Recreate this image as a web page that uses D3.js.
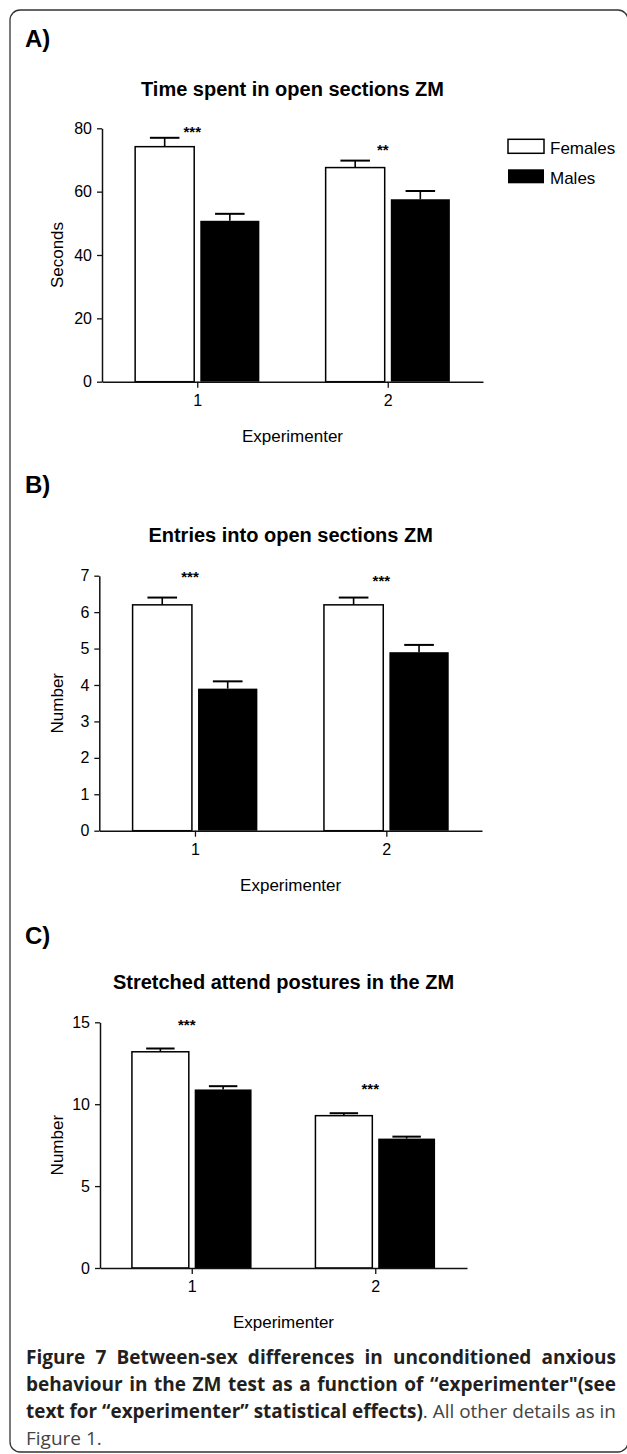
<!DOCTYPE html>
<html>
<head>
<meta charset="utf-8">
<script src="https://cdn.jsdelivr.net/npm/d3@7"></script>
<style>
  body { margin: 0; background: #fff; }
  svg { display: block; }
</style>
</head>
<body>
<script>
// groups on the x axis and the two series
const groups = ["1", "2"];
const seriesNames = ["Females", "Males"];

// A) time spent in open sections (seconds)
const timeFemales = [74.2, 67.6];
const timeFemalesSem = [2.8, 2.2];
const timeMales = [50.8, 57.6];
const timeMalesSem = [2.2, 2.6];
const timeTicks = [0, 20, 40, 60, 80];
const timeStars = ["***", "**"];
const timeStarY = [80.1, 74.2];

// B) entries into open sections
const entriesFemales = [6.2, 6.2];
const entriesFemalesSem = [0.2, 0.2];
const entriesMales = [3.9, 4.9];
const entriesMalesSem = [0.2, 0.2];
const entriesTicks = [0, 1, 2, 3, 4, 5, 6, 7];
const entriesStars = ["***", "***"];
const entriesStarY = [7.07, 6.96];

// C) stretched attend postures
const sapFemales = [13.2, 9.3];
const sapFemalesSem = [0.2, 0.15];
const sapMales = [10.9, 7.9];
const sapMalesSem = [0.2, 0.12];
const sapTicks = [0, 5, 10, 15];
const sapStars = ["***", "***"];
const sapStarY = [15.08, 11.17];

const W = 627, H = 1454;
const FONT = "'Liberation Sans', Arial, sans-serif";

const svg = d3.select("body").append("svg")
  .attr("width", W)
  .attr("height", H);

// rounded frame round the figure
svg.append("rect")
  .attr("x", 10).attr("y", 10)
  .attr("width", 618).attr("height", 1442)
  .attr("rx", 10).attr("ry", 10)
  .attr("fill", "none")
  .attr("stroke", "#333")
  .attr("stroke-width", 1.3);

const panels = [
  { letter: "A)", letterY: 47, title: "Time spent in open sections ZM", titleY: 96,
    yLabel: "Seconds", x0: 102, x1: 483, yTop: 128.3, yBottom: 381.7,
    females: timeFemales, femalesSem: timeFemalesSem, males: timeMales, malesSem: timeMalesSem,
    ticks: timeTicks, stars: timeStars, starY: timeStarY, legend: true },
  { letter: "B)", letterY: 493, title: "Entries into open sections ZM", titleY: 542,
    yLabel: "Number", x0: 99.3, x1: 482, yTop: 575.7, yBottom: 830.7,
    females: entriesFemales, femalesSem: entriesFemalesSem, males: entriesMales, malesSem: entriesMalesSem,
    ticks: entriesTicks, stars: entriesStars, starY: entriesStarY },
  { letter: "C)", letterY: 944, title: "Stretched attend postures in the ZM", titleY: 989,
    yLabel: "Number", x0: 100, x1: 467, yTop: 1022.3, yBottom: 1268,
    females: sapFemales, femalesSem: sapFemalesSem, males: sapMales, malesSem: sapMalesSem,
    ticks: sapTicks, stars: sapStars, starY: sapStarY }
];

panels.forEach(p => {
  const g = svg.append("g").style("font-family", FONT);

  const x = d3.scalePoint().domain(groups).range([p.x0, p.x1]).padding(0.5);
  const y = d3.scaleLinear().domain([0, d3.max(p.ticks)]).range([p.yBottom, p.yTop]);
  const step = x.step();
  const bw = step * 0.31;
  const gap = step * 0.016;

  // panel letter and title
  g.append("text")
    .attr("x", 25).attr("y", p.letterY)
    .attr("font-size", 24).attr("font-weight", "bold")
    .text(p.letter);

  g.append("text")
    .attr("x", (p.x0 + p.x1) / 2).attr("y", p.titleY)
    .attr("text-anchor", "middle")
    .attr("font-size", 20).attr("font-weight", "bold")
    .text(p.title);

  // bars: females open, males filled
  const rows = groups.map((k, i) => [
    { key: k, s: 0, v: p.females[i], e: p.femalesSem[i] },
    { key: k, s: 1, v: p.males[i], e: p.malesSem[i] }
  ]).flat();

  const bx = d => d.s === 0 ? x(d.key) - gap - bw : x(d.key) + gap;

  // error bars (upper only)
  g.selectAll(".stem").data(rows).enter().append("line")
    .attr("x1", d => bx(d) + bw / 2).attr("x2", d => bx(d) + bw / 2)
    .attr("y1", d => y(d.v)).attr("y2", d => y(d.v + d.e))
    .attr("stroke", "#000").attr("stroke-width", 1.6);
  g.selectAll(".cap").data(rows).enter().append("line")
    .attr("x1", d => bx(d) + bw / 4).attr("x2", d => bx(d) + bw * 3 / 4)
    .attr("y1", d => y(d.v + d.e)).attr("y2", d => y(d.v + d.e))
    .attr("stroke", "#000").attr("stroke-width", 2);

  g.selectAll(".bar").data(rows).enter().append("rect")
    .attr("x", bx)
    .attr("y", d => y(d.v))
    .attr("width", bw)
    .attr("height", d => y(0) - y(d.v))
    .attr("fill", d => d.s === 0 ? "#fff" : "#000")
    .attr("stroke", "#000")
    .attr("stroke-width", d => d.s === 0 ? 1.5 : 0);

  // axes
  const yAxis = g.append("g")
    .attr("transform", `translate(${p.x0},0)`)
    .call(d3.axisLeft(y).tickValues(p.ticks).tickFormat(d3.format("d"))
      .tickSize(5).tickSizeOuter(0).tickPadding(5));
  const xAxis = g.append("g")
    .attr("transform", `translate(0,${p.yBottom})`)
    .call(d3.axisBottom(x).tickSize(6).tickSizeOuter(0).tickPadding(7));
  [yAxis, xAxis].forEach(a => {
    a.attr("font-family", FONT).attr("font-size", 16);
    a.select(".domain").attr("stroke", "#111").attr("stroke-width", 1.5);
    a.selectAll(".tick line").attr("stroke", "#111").attr("stroke-width", 1.3);
    a.selectAll(".tick text").attr("fill", "#000");
  });

  // axis titles
  g.append("text")
    .attr("transform", `translate(57,${(p.yTop + p.yBottom) / 2}) rotate(-90)`)
    .attr("text-anchor", "middle")
    .attr("dy", "0.35em")
    .attr("font-size", 17)
    .text(p.yLabel);

  g.append("text")
    .attr("x", (p.x0 + p.x1) / 2).attr("y", p.yBottom + 54)
    .attr("text-anchor", "middle")
    .attr("dy", "0.35em")
    .attr("font-size", 17)
    .text("Experimenter");

  // significance stars
  g.selectAll(".star").data(groups).enter().append("text")
    .attr("x", d => x(d) - 5)
    .attr("y", (d, i) => y(p.starY[i]) + 8.7)
    .attr("text-anchor", "middle")
    .attr("font-size", 15).attr("font-weight", "bold")
    .text((d, i) => p.stars[i]);

  // legend
  if (p.legend) {
    const lg = g.selectAll(".lg").data(seriesNames).enter().append("g")
      .attr("transform", (d, i) => `translate(508,${139.3 + i * 30})`);
    lg.append("rect")
      .attr("width", 36).attr("height", 14)
      .attr("fill", (d, i) => i === 0 ? "#fff" : "#000")
      .attr("stroke", "#000").attr("stroke-width", (d, i) => i === 0 ? 1.5 : 0);
    lg.append("text")
      .attr("x", 42).attr("y", 14.5)
      .attr("font-size", 17)
      .text(d => d);
  }
});

// caption, justified line by line
const captionLines = [
  [["Figure 7 Between-sex differences in unconditioned anxious", true]],
  [["behaviour in the ZM test as a function of \u201cexperimenter\"(see", true]],
  [["text for \u201cexperimenter\u201d statistical effects)", true], [". All other details as in", false]],
  [["Figure 1.", false]]
];
const captionJustify = [true, true, true, false];
const capX = 26, capW = 590;

captionLines.forEach((segs, i) => {
  const t = svg.append("text")
    .attr("x", capX).attr("y", 1364 + i * 27)
    .attr("font-family", "'Open Sans', 'Noto Sans', sans-serif")
    .attr("font-size", 19);
  segs.forEach(([s, bold]) => {
    t.append("tspan")
      .attr("font-weight", bold ? "bold" : "normal")
      .attr("fill", bold ? "#231f20" : "#444")
      .text(s);
  });
  if (captionJustify[i]) {
    const w = t.node().getComputedTextLength();
    const spaces = segs.map(s => s[0]).join("").split(" ").length - 1;
    if (w < capW) {
      t.attr("word-spacing", (capW - w) / spaces);
    } else {
      t.attr("textLength", capW).attr("lengthAdjust", "spacingAndGlyphs");
    }
  }
});
</script>
</body>
</html>
